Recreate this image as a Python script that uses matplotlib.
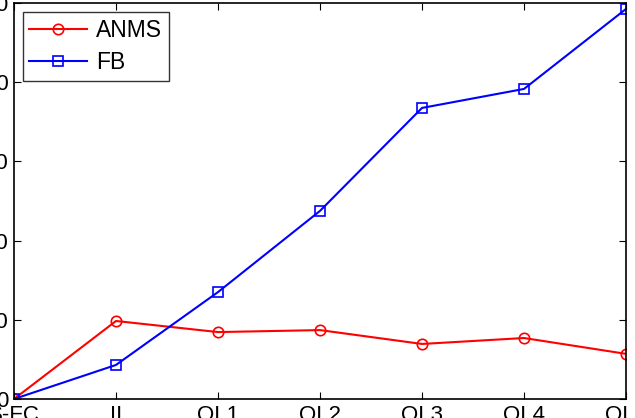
import matplotlib
matplotlib.use("Agg")
import matplotlib.pyplot as plt

categories = ["S-FC", "II", "QL1", "QL2", "QL3", "QL4", "QL5"]
anms = [0, 19.7, 16.9, 17.4, 13.9, 15.4, 11.4]
fb = [0, 8.6, 27.0, 47.5, 73.5, 78.3, 98.5]
yticks = [0, 20, 40, 60, 80, 100]

plt.rcParams['font.family'] = ['Liberation Sans', 'DejaVu Sans']
fig = plt.figure(figsize=(6.35, 4.18), dpi=100)
ax = fig.add_axes([14/635, 19/418, 612/635, 396/418])
x = list(range(len(categories)))
ax.plot(x, anms, color='#ff0000', marker='o', markersize=7.5, markerfacecolor='none',
        markeredgewidth=1.2, linewidth=1.5, label='ANMS')
ax.plot(x, fb, color='#0000ff', marker='s', markersize=6.5, markerfacecolor='none',
        markeredgewidth=1.2, linewidth=1.5, label='FB')
ax.set_xlim(0, len(categories) - 1)
ax.set_ylim(0, 100)
ax.set_xticks(x)
ax.set_xticklabels(categories)
ax.set_yticks(yticks)
ax.tick_params(direction='in', top=True, right=True, labelsize=16, length=5, width=0.8, pad=4)
for s in ax.spines.values():
    s.set_linewidth(1.2)
ax.legend(loc='upper left', fontsize=16.5, frameon=True, fancybox=False, edgecolor='black',
          borderpad=0.3, handlelength=2.5, handletextpad=0.4, labelspacing=0.4,
          bbox_to_anchor=(0.014, 0.977), borderaxespad=0)
ax.get_legend().get_frame().set_linewidth(1.0)
fig.savefig("out.png", dpi=100)
